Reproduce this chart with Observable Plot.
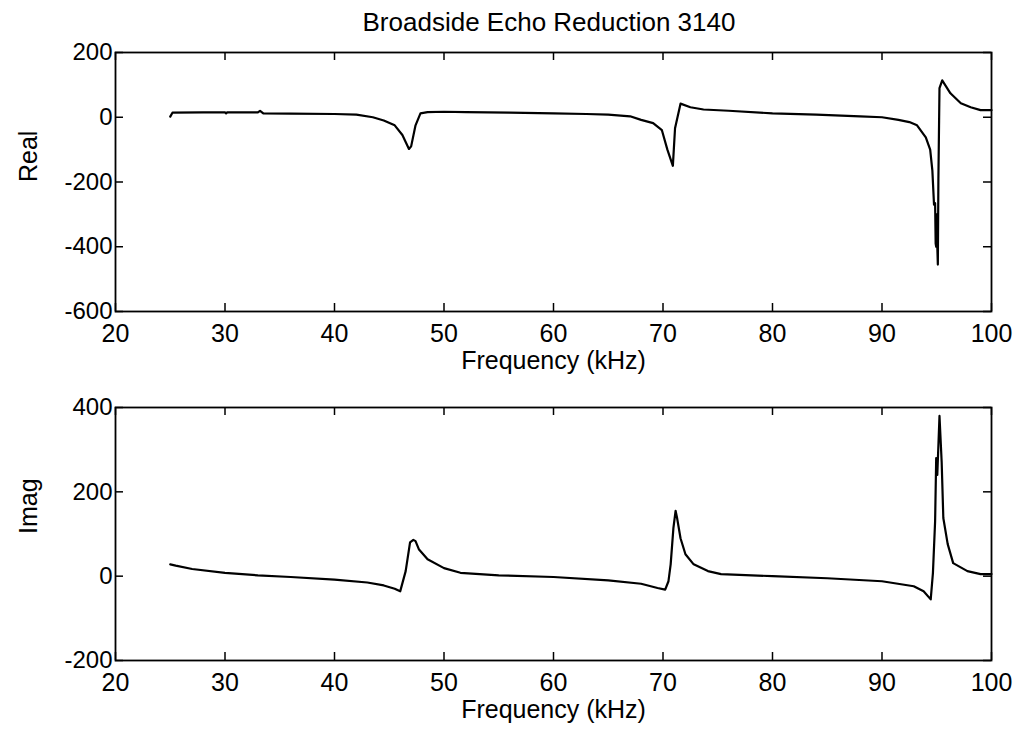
<!DOCTYPE html>
<html>
<head>
<meta charset="utf-8">
<script src="https://cdn.jsdelivr.net/npm/d3@7"></script>
<script src="https://cdn.jsdelivr.net/npm/@observablehq/plot@0.6"></script>
<style>
  html, body { margin: 0; padding: 0; background: white; }
  #title { width: 1014px; height: 40px; line-height: 44px; box-sizing: border-box; padding-left: 84px;
           text-align: center; font-family: "Liberation Sans", Arial, sans-serif; font-size: 26px; color: black; overflow: visible; }
  svg { display: block; }
</style>
</head>
<body>
<div id="title">Broadside Echo Reduction 3140</div>
<div id="chart"></div>
<script>
const xTicks = [20, 30, 40, 50, 60, 70, 80, 90, 100];
const realTicks = [-600, -400, -200, 0, 200];
const imagTicks = [-200, 0, 200, 400];
const xLabel = "Frequency (kHz)";

const realFreq = [25.0, 25.2, 28, 30, 30.1, 30.2, 33.0, 33.2, 33.5, 36, 40, 42, 43.5, 44.5, 45.5, 46.2, 46.8, 47.0, 47.4, 47.85,
  48.5, 50, 52, 56, 60, 63, 65, 67, 68, 69.1, 69.9, 70.4, 70.9, 71.1, 71.6, 72.5, 73.7, 76, 80, 84, 88, 90, 91.5, 92.5, 93.2,
  94.0, 94.4, 94.6, 94.75, 94.85, 94.9, 94.95, 95.0, 95.05, 95.1, 95.15, 95.25, 95.5, 96.25, 97.2, 98.1, 99.0, 100];
const realVals = [2, 14, 15, 15, 12, 15, 15, 20, 12, 11, 10, 8, 0, -10, -25, -55, -98, -90, -25, 12,
  16, 17, 16, 14, 12, 10, 8, 3, -8, -18, -40, -100, -150, -34, 42, 31, 24, 20, 12, 8, 3, 0, -8, -15, -25,
  -62, -100, -165, -270, -265, -390, -400, -300, -400, -455, -190, 90, 114, 74, 43, 31, 22, 22];

const imagFreq = [25.0, 25.5, 27, 30, 33, 36, 40, 43, 44.5, 45.5, 46.0, 46.5, 46.9, 47.2, 47.4, 47.7, 48.5, 50, 51.5, 55,
  60, 65, 68, 69.5, 70.2, 70.5, 70.7, 70.95, 71.15, 71.3, 71.6, 72.05, 72.8, 74.1, 75.3, 80, 85, 90, 92.9, 93.8,
  94.45, 94.65, 94.85, 94.95, 95.05, 95.25, 95.45, 95.6, 96.0, 96.5, 97.8, 99.0, 100];
const imagVals = [28, 25, 17, 8, 2, -2, -8, -15, -22, -30, -36, 12, 80, 86, 83, 64, 40, 19, 8, 2,
  -2, -10, -18, -28, -32, -12, 28, 114, 155, 136, 90, 52, 28, 12, 5, 0, -5, -12, -24, -36,
  -55, 7, 130, 280, 240, 380, 270, 138, 76, 31, 12, 5, 5];

const W = 1014;
function panel({freq, vals, yDomain, yTicks, ylabel, height, mt, mb}) {
  const ml = 115, mr = 23, tl = 8;
  const ph = height - mt - mb, pw = W - ml - mr;
  const data = freq.map((f, i) => ({f, v: vals[i]}));
  return Plot.plot({
    width: W, height, marginTop: mt, marginBottom: mb, marginLeft: ml, marginRight: mr,
    style: {fontFamily: "Liberation Sans, Arial, sans-serif", fontSize: "24px", color: "black", background: "white", overflow: "visible"},
    x: {domain: [20, 100]},
    y: {domain: yDomain},
    marks: [
      Plot.line(data, {x: "f", y: "v", stroke: "black", strokeWidth: 2.2}),
      Plot.frame({stroke: "black", strokeWidth: 1.8}),
      Plot.ruleX(xTicks, {x: d => d, insetTop: ph - tl, stroke: "black", strokeWidth: 1.5}),
      Plot.ruleX(xTicks, {x: d => d, insetBottom: ph - tl, stroke: "black", strokeWidth: 1.5}),
      Plot.ruleY(yTicks, {y: d => d, insetLeft: pw - tl, stroke: "black", strokeWidth: 1.5}),
      Plot.ruleY(yTicks, {y: d => d, insetRight: pw - tl, stroke: "black", strokeWidth: 1.5}),
      Plot.axisX({ticks: xTicks, tickSize: 0, tickPadding: 13, label: null, fontSize: 25, tickFormat: d => String(d)}),
      Plot.axisY({ticks: yTicks, tickSize: 0, tickPadding: 3, label: null, fontSize: 24, tickFormat: d => String(d)}),
      Plot.text([xLabel], {text: d => d, frameAnchor: "bottom", dy: 57, fontSize: 25, fill: "black"}),
      Plot.text([ylabel], {text: d => d, frameAnchor: "left", dx: -87, rotate: -90, fontSize: 25, fill: "black"})
    ]
  });
}

const chart = document.getElementById("chart");
chart.append(panel({freq: realFreq, vals: realVals, yDomain: [-600, 200], yTicks: realTicks, ylabel: "Real", height: 340, mt: 12, mb: 69}));
chart.append(panel({freq: imagFreq, vals: imagVals, yDomain: [-200, 400], yTicks: imagTicks, ylabel: "Imag", height: 354, mt: 27, mb: 74}));
</script>
</body>
</html>
